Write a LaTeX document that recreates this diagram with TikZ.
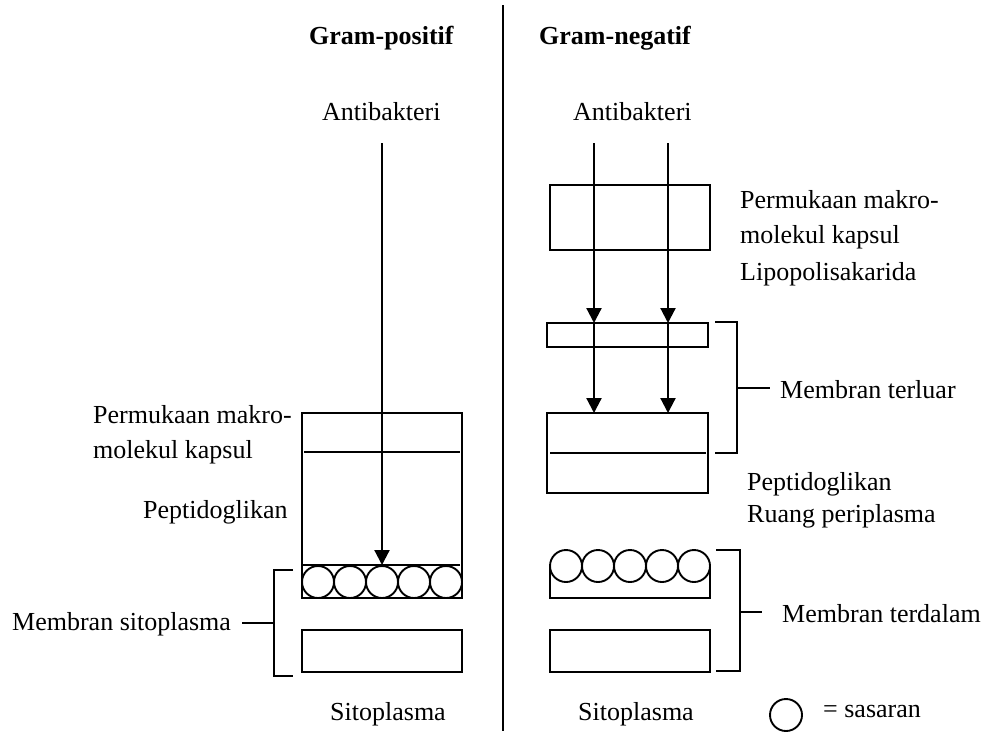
\documentclass[tikz,border=0pt]{standalone}
\usepackage{fontspec}
\setmainfont{Liberation Serif}
\usetikzlibrary{arrows.meta}
\tikzset{
  lbl/.style={anchor=base west, inner sep=0pt, font=\fontsize{26}{31}\selectfont},
  ttl/.style={lbl, font=\fontsize{26}{31}\selectfont\bfseries},
  ln/.style={line width=1.9pt},
  thin/.style={line width=1.4pt},
  arr/.style={line width=2.2pt, -{Triangle[length=15pt,width=15pt]}},
  tgt/.style={line width=1.9pt}
}
\begin{document}
\begin{tikzpicture}[x=1pt,y=-1pt]
\useasboundingbox[fill=white] (0,0) rectangle (987,731);
% divider
\coordinate (dtop) at (503,5);
\coordinate (dbot) at (503,731);
\draw[ln] (dtop) -- (dbot);
% titles
\node[ttl] (gp) at (309,44) {Gram-positif};
\node[ttl] (gn) at (539,44) {Gram-negatif};
\node[lbl] (ab1) at (322,120) {Antibakteri};
\node[lbl] (ab2) at (573,120) {Antibakteri};
% ---------- left side ----------
\draw[ln] (302,413) rectangle (462,598);
\draw[thin] (304,452) -- (460,452);
\draw[thin] (303,565) -- (460,565);
\foreach \cx in {318,350,382,414,446} \draw[tgt] (\cx,582) circle (16);
\draw[ln] (302,630) rectangle (462,672);
\coordinate (la0) at (382,143);
\coordinate (la1) at (382,565);
\draw[arr] (la0) -- (la1);
% left bracket
\draw[ln] (293,570) -- (274,570) -- (274,676) -- (293,676);
\coordinate (lbm) at (274,623);
\coordinate (lbe) at (242,623);
\draw[ln] (lbm) -- (lbe);
\node[lbl] (lp1) at (93,423) {Permukaan makro-};
\node[lbl] (lp2) at (93,458) {molekul kapsul};
\node[lbl] (lpe) at (143,518) {Peptidoglikan};
\node[lbl] (lms) at (12,630) {Membran sitoplasma};
\node[lbl] (lsi) at (330,720) {Sitoplasma};
% ---------- right side ----------
\draw[ln] (550,185) rectangle (710,250);
\draw[ln] (547,323) rectangle (708,347);
\draw[ln] (547,413) rectangle (708,493);
\draw[thin] (550,453) -- (706,453);
\coordinate (ra0) at (594,143);
\coordinate (ra1) at (594,323);
\coordinate (ra2) at (594,413);
\coordinate (rb0) at (668,143);
\coordinate (rb1) at (668,323);
\coordinate (rb2) at (668,413);
\draw[arr] (ra0) -- (ra1);
\draw[arr] (ra1) -- (ra2);
\draw[arr] (rb0) -- (rb1);
\draw[arr] (rb1) -- (rb2);
% bracket outer
\draw[ln] (715,322) -- (737,322) -- (737,453) -- (715,453);
\draw[ln] (737,388) -- (770,388);
% circles right
\foreach \cx in {566,598,630,662,694} \draw[tgt] (\cx,566) circle (16);
\draw[ln] (550,566) -- (550,598) -- (710,598) -- (710,566);
\draw[ln] (550,630) rectangle (710,672);
% bracket inner
\draw[ln] (716,550) -- (740,550) -- (740,671) -- (716,671);
\draw[ln] (740,612) -- (762,612);
\node[lbl] (rp1) at (740,208) {Permukaan makro-};
\node[lbl] (rp2) at (740,243) {molekul kapsul};
\node[lbl] (rlp) at (740,280) {Lipopolisakarida};
\node[lbl] (rmt) at (780,398) {Membran terluar};
\node[lbl] (rpe) at (747,490) {Peptidoglikan};
\node[lbl] (rrp) at (747,522) {Ruang periplasma};
\node[lbl] (rmd) at (782,622) {Membran terdalam};
\node[lbl] (rsi) at (578,720) {Sitoplasma};
% legend
\draw[tgt] (786,715) circle (16);
\node[lbl] (leg) at (823,717) {= sasaran};
\end{tikzpicture}
\end{document}
